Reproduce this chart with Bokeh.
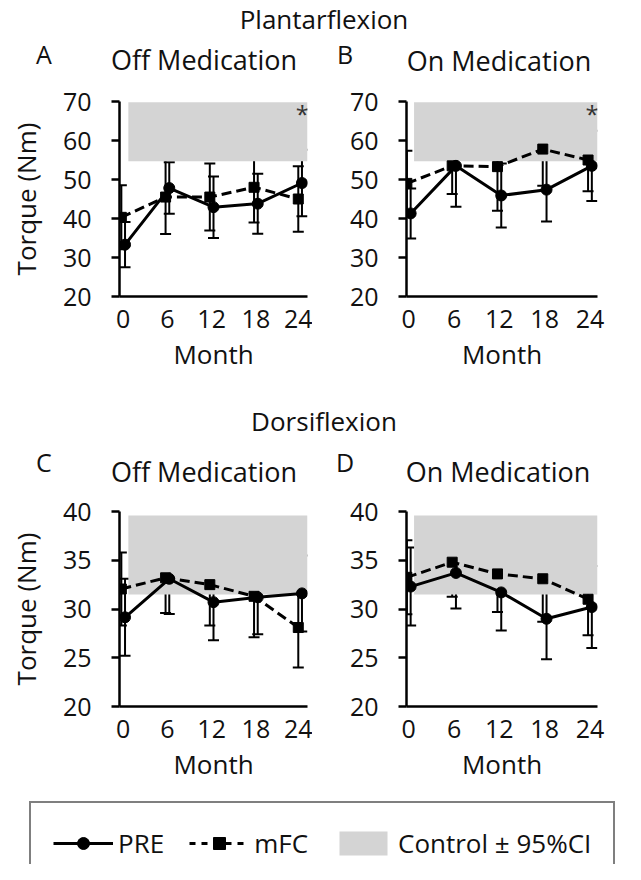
from bokeh.plotting import figure
from bokeh.models import (Range1d, FixedTicker, Whisker, TeeHead, ColumnDataSource,
                          Label, Legend, LegendItem, Div)
from bokeh.layouts import column, row
from bokeh.transform import dodge
from bokeh.embed import file_html
from bokeh.resources import INLINE

# ---------------- data ----------------
months = [0, 6, 12, 18, 24]
month_labels = ["0", "6", "12", "18", "24"]

# Plantarflexion torque (Nm)
pf_off_pre = [33.3, 47.8, 42.9, 43.8, 49.1]
pf_off_pre_err = [5.8, 6.6, 7.9, 7.7, 8.5]
pf_off_mfc = [40.3, 45.5, 45.5, 48.0, 45.0]
pf_off_mfc_err = [8.2, 9.5, 8.6, 9.0, 8.4]

pf_on_pre = [41.3, 53.5, 45.9, 47.4, 53.5]
pf_on_pre_err = [6.4, 10.5, 8.2, 8.2, 9.0]
pf_on_mfc = [49.0, 53.5, 53.3, 57.8, 55.0]
pf_on_mfc_err = [8.4, 7.2, 11.3, 9.4, 8.0]

# Dorsiflexion torque (Nm)
df_off_pre = [29.15, 33.1, 30.7, 31.2, 31.6]
df_off_pre_err = [3.95, 3.6, 3.9, 3.8, 3.9]
df_off_mfc = [32.05, 33.2, 32.5, 31.3, 28.1]
df_off_mfc_err = [3.75, 3.6, 4.2, 4.2, 4.1]

df_on_pre = [32.3, 33.7, 31.7, 29.0, 30.2]
df_on_pre_err = [4.0, 3.65, 3.9, 4.15, 4.2]
df_on_mfc = [33.25, 34.8, 33.6, 33.1, 31.0]
df_on_mfc_err = [3.8, 3.55, 3.9, 4.4, 3.7]

# Control mean +/- 95% CI bands
pf_control = [54.7, 69.8]
df_control = [31.5, 39.6]
control_x = [0.7, 25.0]

pf_yticks = [20, 30, 40, 50, 60, 70]
df_yticks = [20, 25, 30, 35, 40]

FONT = "Open Sans"
TXT = "#111111"
BAND = "#d4d4d4"


def make_source(pre, pre_err, mfc, mfc_err):
    return ColumnDataSource(dict(
        x=months,
        pre=pre, pre_up=[m + e for m, e in zip(pre, pre_err)],
        pre_lo=[m - e for m, e in zip(pre, pre_err)],
        mfc=mfc, mfc_up=[m + e for m, e in zip(mfc, mfc_err)],
        mfc_lo=[m - e for m, e in zip(mfc, mfc_err)],
    ))


def panel(src, ctrl, yticks, ylabel, star, width, height, bl, br, bt, bb, xstart):
    p = figure(width=width, height=height,
               min_border_left=bl, min_border_right=br,
               min_border_top=bt, min_border_bottom=bb,
               x_range=Range1d(xstart, 25.0),
               y_range=Range1d(yticks[0], yticks[-1]),
               output_backend="svg", toolbar_location=None,
               outline_line_color=None, background_fill_color="white")
    p.grid.visible = False

    p.quad(left=[control_x[0]], right=[control_x[1]], bottom=[ctrl[0]], top=[ctrl[1]],
           fill_color=BAND, line_color=None)

    pre_x = dodge("x", 0.25)
    mfc_x = dodge("x", -0.25)
    for base, up, lo in ((mfc_x, "mfc_up", "mfc_lo"), (pre_x, "pre_up", "pre_lo")):
        w = Whisker(source=src, base=base, upper=up, lower=lo,
                    line_color="black", line_width=2,
                    upper_head=TeeHead(size=11, line_width=2, line_color="black"),
                    lower_head=TeeHead(size=11, line_width=2, line_color="black"))
        p.add_layout(w)

    p.line(x=mfc_x, y="mfc", source=src, line_color="black", line_width=3,
           line_dash="10 5")
    p.scatter(x=mfc_x, y="mfc", source=src, marker="square", size=10,
              fill_color="black", line_color="black")
    p.line(x=pre_x, y="pre", source=src, line_color="black", line_width=3)
    p.scatter(x=pre_x, y="pre", source=src, marker="circle", size=11,
              fill_color="black", line_color="black")

    xa = p.xaxis[0]
    xa.ticker = FixedTicker(ticks=months)
    xa.major_label_overrides = {m: l for m, l in zip(months, month_labels)}
    xa.major_tick_out = 0
    xa.major_tick_in = 0
    xa.minor_tick_out = 0
    xa.minor_tick_in = 0
    xa.axis_line_width = 2.5
    xa.axis_line_color = "black"
    xa.major_label_standoff = 13
    xa.major_label_text_font = FONT
    xa.major_label_text_font_size = "25px"
    xa.major_label_text_color = TXT
    xa.axis_label = "Month"
    xa.axis_label_text_font = FONT
    xa.axis_label_text_font_size = "26px"
    xa.axis_label_text_font_style = "normal"
    xa.axis_label_text_color = TXT
    xa.axis_label_standoff = 5

    ya = p.yaxis[0]
    ya.ticker = FixedTicker(ticks=yticks)
    ya.major_tick_out = 8
    ya.major_tick_in = 0
    ya.minor_tick_out = 0
    ya.minor_tick_in = 0
    ya.major_tick_line_width = 2.5
    ya.axis_line_width = 2.5
    ya.axis_line_color = "black"
    ya.major_label_standoff = 20
    ya.major_label_text_font = FONT
    ya.major_label_text_font_size = "25px"
    ya.major_label_text_color = TXT
    if ylabel:
        ya.axis_label = ylabel
        ya.axis_label_text_font = FONT
        ya.axis_label_text_font_size = "26px"
        ya.axis_label_text_font_style = "normal"
        ya.axis_label_text_color = TXT
        ya.axis_label_standoff = 16

    if star:
        p.add_layout(Label(x=24.3, y=67.0, text="*", text_font=FONT,
                           text_font_size="24px", text_color="#333333",
                           text_align="center", text_baseline="middle"))
    return p


def header(height, items):
    """items: (text, x, top, size_px, centered) positioned in header pixels"""
    spans = []
    for text, x, top, size, centered in items:
        tr = "transform:translateX(-50%);" if centered else ""
        spans.append(
            f'<span style="position:absolute;left:{x}px;top:{top}px;{tr}'
            f'font-size:{size}px;line-height:{size}px;white-space:nowrap;">{text}</span>')
    html = (f'<div style="position:relative;width:625px;height:{height}px;'
            f'font-family:\'{FONT}\';color:{TXT};">' + "".join(spans) + "</div>")
    return Div(text=html, width=625, height=height, margin=0)


srcA = make_source(pf_off_pre, pf_off_pre_err, pf_off_mfc, pf_off_mfc_err)
srcB = make_source(pf_on_pre, pf_on_pre_err, pf_on_mfc, pf_on_mfc_err)
srcC = make_source(df_off_pre, df_off_pre_err, df_off_mfc, df_off_mfc_err)
srcD = make_source(df_on_pre, df_on_pre_err, df_on_mfc, df_on_mfc_err)

h1 = header(83, [("Plantarflexion", 324, 6, 26, True),
                 ("A", 36, 42, 25, False),
                 ("Off Medication", 204, 46, 27, True),
                 ("B", 337, 42, 25, False),
                 ("On Medication", 499, 47, 27, True)])
pA = panel(srcA, pf_control, pf_yticks, "Torque (Nm)", True, 312, 309, 119, 5, 18, 96, -0.5)
pB = panel(srcB, pf_control, pf_yticks, None, True, 313, 309, 94, 28, 18, 96, -0.3)

h2 = header(101, [("Dorsiflexion", 324, 16, 26, True),
                  ("C", 36, 58, 25, False),
                  ("Off Medication", 204, 66, 27, True),
                  ("D", 336, 58, 25, False),
                  ("On Medication", 498, 66, 27, True)])
pC = panel(srcC, df_control, df_yticks, "Torque (Nm)", False, 312, 304, 119, 5, 18, 91, -0.5)
pD = panel(srcD, df_control, df_yticks, None, False, 313, 304, 94, 28, 18, 91, -0.3)

# legend strip: key glyphs come from the PRE / mFC series, kept outside the visible range
lg = figure(width=625, height=67, x_range=Range1d(100, 101), y_range=Range1d(100, 101),
            min_border_left=29, min_border_top=4, min_border_right=0, min_border_bottom=0,
            x_axis_type=None, y_axis_type=None, output_backend="svg",
            toolbar_location=None, outline_line_color=None)
lg.grid.visible = False
r_pre_l = lg.line(x="x", y="pre", source=srcA, line_color="black", line_width=3)
r_pre_m = lg.scatter(x="x", y="pre", source=srcA, marker="circle", size=11,
                     fill_color="black", line_color="black")
r_mfc_l = lg.line(x="x", y="mfc", source=srcA, line_color="black", line_width=3,
                  line_dash="6 6")
r_mfc_m = lg.scatter(x="x", y="mfc", source=srcA, marker="square", size=10,
                     fill_color="black", line_color="black")
r_ctrl = lg.quad(left=[control_x[0]], right=[control_x[1]], bottom=[pf_control[0]],
                 top=[pf_control[1]], fill_color=BAND, line_color=None)
legend = Legend(items=[LegendItem(label="PRE", renderers=[r_pre_l, r_pre_m]),
                       LegendItem(label="mFC", renderers=[r_mfc_l, r_mfc_m]),
                       LegendItem(label="Control \u00b1 95%CI", renderers=[r_ctrl])],
                location="top_left", orientation="horizontal", margin=0, padding=22,
                spacing=25, glyph_width=60, glyph_height=30, label_standoff=5,
                label_text_font=FONT, label_text_font_size="26px", label_text_color=TXT,
                border_line_color="black", border_line_width=2,
                background_fill_color="white", background_fill_alpha=1.0)
lg.add_layout(legend)

layout = column(h1, row(pA, pB), h2, row(pC, pD), lg)

open("out.html", "w").write(file_html(layout, INLINE))
